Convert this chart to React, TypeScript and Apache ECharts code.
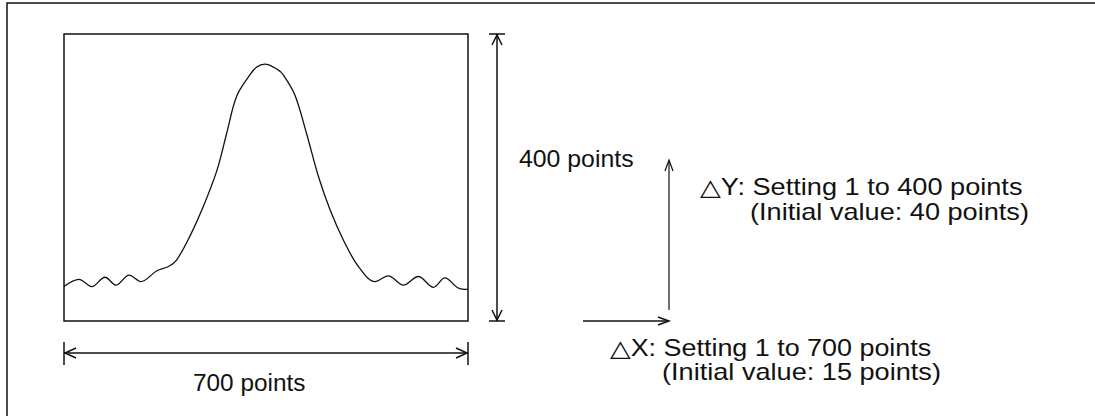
import React, { useEffect, useRef } from "react";
import * as echarts from "echarts";

// Trace of the waveform (x: 0..700 points, y: 0..400 points)
const traceX = [0, 26, 48, 71, 90, 113, 133, 161, 181, 195, 218, 241, 265, 282, 299, 322, 334, 348, 371, 380, 400, 420, 441, 461, 484, 510, 539, 562, 588, 614, 640, 660, 683, 700];
const traceY = [48, 58, 48, 61, 50, 64, 55, 70, 76, 85, 118, 159, 210, 262, 313, 343, 354, 358, 350, 343, 315, 262, 201, 155, 113, 76, 55, 63, 50, 62, 47, 60, 46, 44];

const xRange = [0, 700];
const yRange = [0, 400];

const dimLabels = ["400 points", "700 points"];
const deltaYLines = ["\u25B3Y: Setting 1 to 400 points", "(Initial value: 40 points)"];
const deltaXLines = ["\u25B3X: Setting 1 to 700 points", "(Initial value: 15 points)"];

const INK = "#111";
const FONT = "'Liberation Sans', Arial, Helvetica, 'DejaVu Sans', sans-serif";

function txt(text: string, x: number, y: number, sx: number) {
  return {
    type: "text",
    x,
    y,
    scaleX: sx,
    style: {
      text,
      fill: INK,
      font: `23px ${FONT}`,
      textAlign: "left",
      textVerticalAlign: "middle",
      verticalAlign: "middle",
    },
  };
}

function pl(points: number[][], w = 1.5) {
  return {
    type: "polyline",
    shape: { points },
    style: { stroke: INK, lineWidth: w, fill: "none" },
  };
}

export default function App() {
  const ref = useRef<HTMLDivElement>(null);
  useEffect(() => {
    if (!ref.current) return;
    const chart = echarts.init(ref.current, undefined, { renderer: "svg" });
    const data = traceX.map((x, i) => [x, traceY[i]]);
    chart.setOption({
      animation: false,
      backgroundColor: "#fff",
      grid: {
        left: 64,
        top: 34,
        width: 404,
        height: 287,
        show: true,
        borderColor: INK,
        borderWidth: 1.5,
        backgroundColor: "transparent",
      },
      xAxis: { type: "value", min: xRange[0], max: xRange[1], show: false },
      yAxis: { type: "value", min: yRange[0], max: yRange[1], show: false },
      series: [
        {
          type: "line",
          data,
          smooth: 0.35,
          showSymbol: false,
          lineStyle: { color: INK, width: 1.3 },
        },
      ],
      graphic: [
        // outer frame
        pl([[7, 416], [7, 3], [1095, 3]], 1.5),
        // vertical dimension (400 points)
        pl([[497, 34], [497, 321]]),
        pl([[489, 34], [505, 34]]),
        pl([[489, 321], [505, 321]]),
        pl([[492, 45], [497, 35], [502, 45]]),
        pl([[492, 310], [497, 320], [502, 310]]),
        // horizontal dimension (700 points)
        pl([[64, 353], [468, 353]]),
        pl([[64, 342], [64, 365]]),
        pl([[468, 342], [468, 365]]),
        pl([[76, 348], [65, 353], [76, 358]]),
        pl([[456, 348], [467, 353], [456, 358]]),
        // delta Y arrow
        pl([[669, 310], [669, 161]], 1.2),
        pl([[665, 171], [669, 160], [673, 171]], 1.2),
        // delta X arrow
        pl([[583, 321], [668, 321]], 1.5),
        pl([[658, 317], [669, 321], [658, 325]], 1.5),
        // texts
        txt(dimLabels[0], 519, 159, 1.08),
        txt(dimLabels[1], 193, 383, 1.06),
        txt(deltaYLines[0], 700, 187, 1.18),
        txt(deltaYLines[1], 750, 212, 1.18),
        txt(deltaXLines[0], 610, 348, 1.17),
        txt(deltaXLines[1], 662, 372, 1.18),
      ],
    });
    return () => chart.dispose();
  }, []);
  return (
    <div
      ref={ref}
      style={{ position: "fixed", left: 0, top: 0, width: 1095, height: 416, background: "#fff" }}
    />
  );
}
